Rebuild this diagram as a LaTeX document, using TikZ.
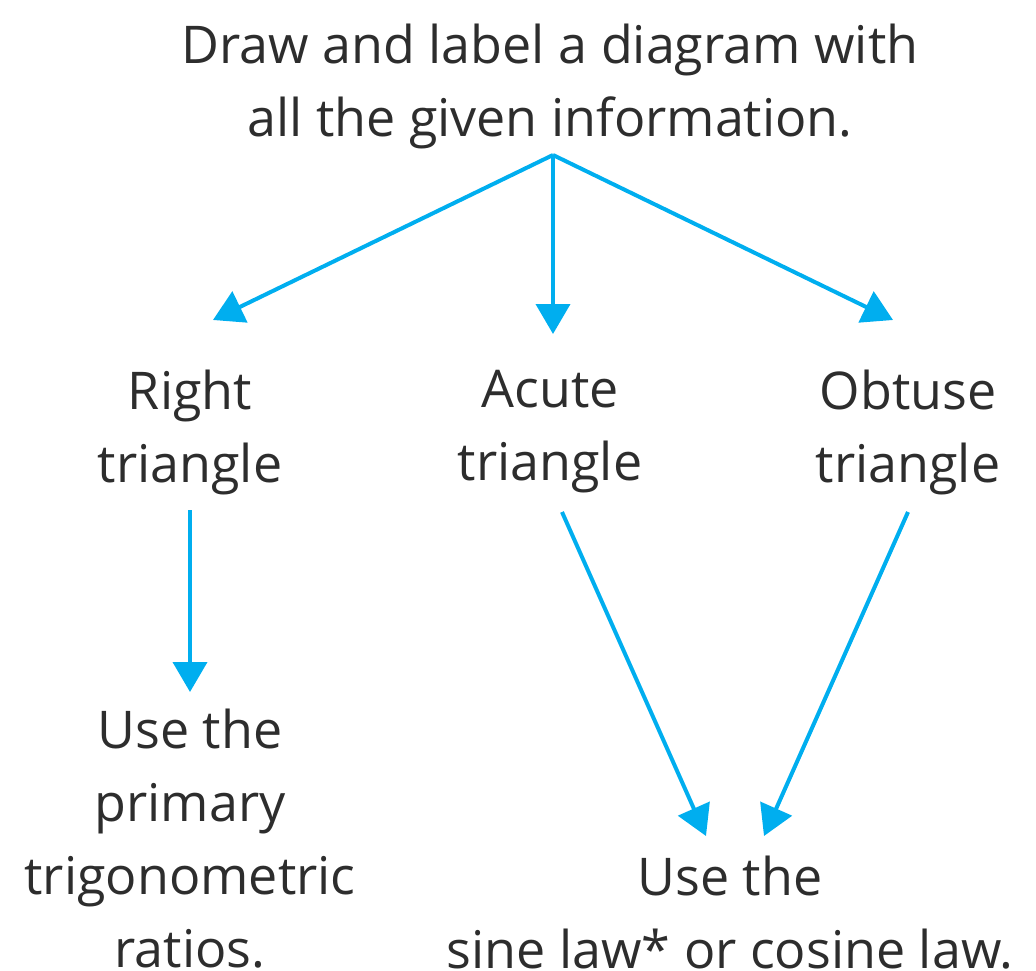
\documentclass[tikz,border=0pt]{standalone}
\usepackage{fontspec}
\setmainfont{Open Sans}
\usetikzlibrary{arrows.meta}
\definecolor{arrowblue}{RGB}{0,174,239}
\definecolor{txt}{RGB}{45,45,45}
\tikzset{
  lbl/.style={align=center, font=\fontsize{52}{73}\selectfont, text=txt, inner sep=0pt},
  arr/.style={draw=arrowblue, line width=4pt, -{Triangle[length=30pt,width=34pt]}}
}
\begin{document}
\begin{tikzpicture}[x=1pt,y=-1pt]
\useasboundingbox (0,0) rectangle (1036,971);
\node[lbl] (top) at (550,86) {Draw and label a diagram with\\all the given information.};
\node[lbl] (right) at (190,432) {Right\\triangle};
\node[lbl] (acute) at (550,432) {Acute\\triangle};
\node[lbl] (obtuse) at (908,432) {Obtuse\\triangle};
\node[lbl] (prim) at (190,839) {Use the\\primary\\trigonometric\\ratios.};
\node[lbl] (law) at (730,913) {Use the\\sine law* or cosine law.};
\coordinate (hub) at (553,155);
\coordinate (rtip) at (213,320);
\coordinate (atip) at (553,334);
\coordinate (otip) at (893,320);
\coordinate (rs) at (190,510);
\coordinate (rp) at (190,692);
\coordinate (as) at (562,512);
\coordinate (al) at (706,836);
\coordinate (os) at (908,512);
\coordinate (ol) at (764,836);
\draw[arr] (hub) -- (rtip);
\draw[arr] (hub) -- (atip);
\draw[arr] (hub) -- (otip);
\draw[arr] (rs) -- (rp);
\draw[arr] (as) -- (al);
\draw[arr] (os) -- (ol);
\end{tikzpicture}
\end{document}
